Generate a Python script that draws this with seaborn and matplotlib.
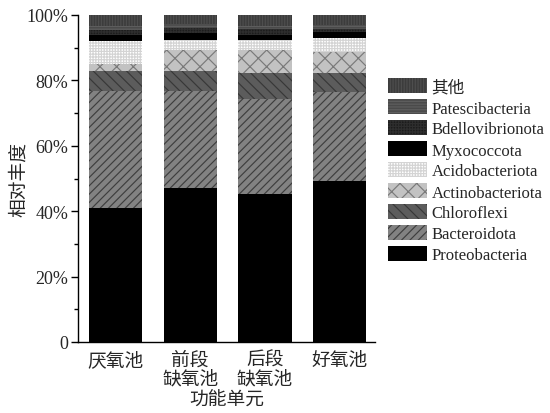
import matplotlib
matplotlib.use("Agg")
import matplotlib.pyplot as plt
from matplotlib.patches import Patch
from matplotlib.ticker import FixedLocator, FuncFormatter
import numpy as np
import seaborn as sns

# Functional units (x categories)
units = ["厌氧池", "前段\n缺氧池", "后段\n缺氧池", "好氧池"]

# Relative abundance (%) of each phylum, bottom layer first
proteobacteria = [40.9, 47.0, 45.3, 49.3]
bacteroidota = [36.0, 29.9, 29.0, 27.1]
chloroflexi = [6.1, 5.9, 8.0, 5.9]
actinobacteriota = [2.0, 6.5, 7.0, 6.3]
acidobacteriota = [7.1, 3.1, 3.1, 4.3]
myxococcota = [1.9, 2.0, 1.6, 1.8]
bdellovibrionota = [1.4, 1.6, 1.7, 1.0]
patescibacteria = [1.3, 1.2, 1.0, 1.3]
others = [3.3, 2.8, 3.3, 3.0]

phyla = ["Proteobacteria", "Bacteroidota", "Chloroflexi", "Actinobacteriota",
         "Acidobacteriota", "Myxococcota", "Bdellovibrionota", "Patescibacteria", "其他"]
layers = [proteobacteria, bacteroidota, chloroflexi, actinobacteriota,
          acidobacteriota, myxococcota, bdellovibrionota, patescibacteria, others]

# (face colour, hatch colour, hatch pattern) per phylum
styles = [
    ("#000000", "#000000", None),
    ("#828282", "#3e3e3e", "////"),
    ("#5c5c5c", "#383838", "\\\\\\"),
    ("#c2c2c2", "#7a7a7a", "xx"),
    ("#ffffff", "#d4d4d4", "++++++"),
    ("#000000", "#000000", None),
    ("#1c1c1c", "#2e2e2e", "++++++"),
    ("#4a4a4a", "#5e5e5e", "------"),
    ("#3c3c3c", "#4e4e4e", "||||||"),
]

sns.set_style("ticks")
plt.rcParams["font.family"] = ["Liberation Serif", "Noto Sans CJK SC"]
plt.rcParams["hatch.linewidth"] = 0.85
plt.rcParams["axes.unicode_minus"] = False

fig = plt.figure(figsize=(5.5, 4.14), dpi=100)
ax = fig.add_axes([78 / 550, 1 - 343 / 414, (375 - 78) / 550, (343 - 16) / 414])

cum = np.cumsum(np.array(layers), axis=0)

# Stacked bars: draw cumulative totals from the top layer down
for i in range(len(layers) - 1, -1, -1):
    face, hcol, hatch = styles[i]
    sns.barplot(x=units, y=cum[i], color=face, hatch=hatch, edgecolor=hcol,
                linewidth=0, width=0.71, saturation=1, ax=ax, errorbar=None)

ax.set_xlim(-0.5, 3.47)
ax.set_ylim(0, 100)
ax.yaxis.set_major_locator(FixedLocator([0, 20, 40, 60, 80, 100]))
ax.yaxis.set_minor_locator(FixedLocator([10, 30, 50, 70, 90]))
ax.yaxis.set_major_formatter(FuncFormatter(lambda v, p: "0" if v == 0 else f"{int(v)}%"))

for side in ["top", "right"]:
    ax.spines[side].set_visible(False)
for side in ["left", "bottom"]:
    ax.spines[side].set_color("black")
    ax.spines[side].set_linewidth(1.0)

ax.tick_params(axis="y", which="major", direction="out", length=5, width=1,
               color="black", labelsize=13, pad=2)
ax.tick_params(axis="y", which="minor", direction="out", length=3, width=1, color="black")
ax.tick_params(axis="x", length=0, labelsize=13.5, pad=7)
for lab in ax.get_xticklabels():
    lab.set_linespacing(1.05)

ax.set_ylabel("相对丰度", fontsize=13.5, labelpad=-1)
ax.set_xlabel("功能单元", fontsize=13.5, labelpad=3)

handles = [Patch(facecolor=styles[i][0], edgecolor=styles[i][1], hatch=styles[i][2],
                 linewidth=0, label=phyla[i]) for i in range(len(phyla) - 1, -1, -1)]
leg = fig.legend(handles=handles, loc="upper left", bbox_to_anchor=(385 / 550, 1 - 76 / 414),
                 frameon=False, fontsize=12, handlelength=2.3, handleheight=1.0,
                 handletextpad=0.3, labelspacing=0.23, borderaxespad=0, borderpad=0.2)

fig.savefig("out.png", dpi=100)
